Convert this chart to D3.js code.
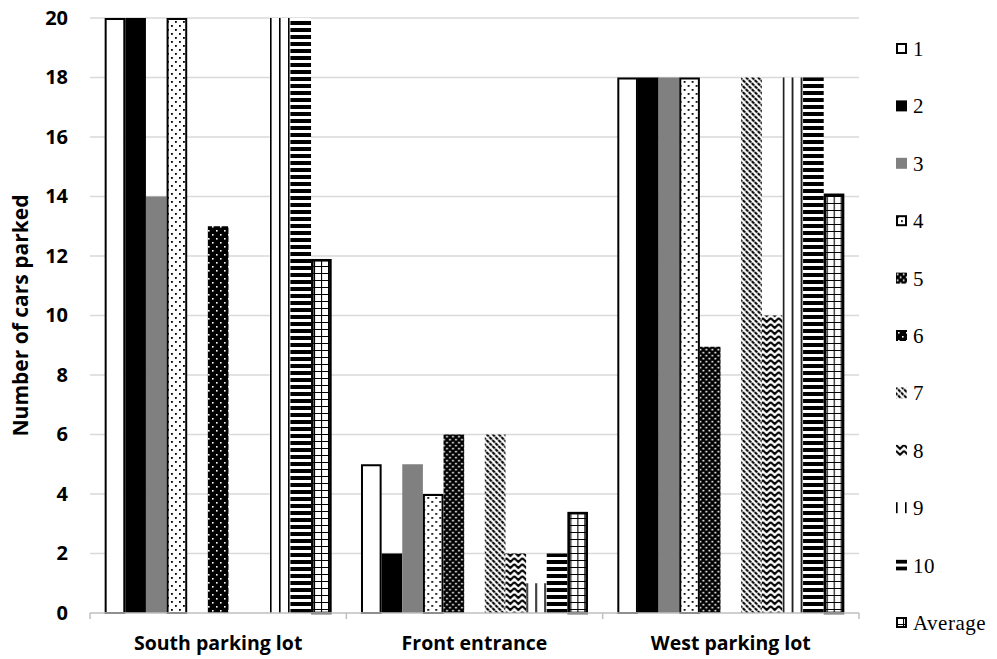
<!DOCTYPE html>
<html>
<head>
<meta charset="utf-8">
<script src="https://cdn.jsdelivr.net/npm/d3@7"></script>
<style>
  body { margin: 0; background: #fff; }
</style>
</head>
<body>
<svg id="chart" width="997" height="659"></svg>
<script>
// data
var categories = ["South parking lot", "Front entrance", "West parking lot"];
var seriesNames = ["1", "2", "3", "4", "5", "6", "7", "8", "9", "10", "Average"];
var southValues = [20, 20, 14, 20, 0, 13, 0, 0, 20, 20, 11.9];
var frontValues = [5, 2, 5, 4, 6, 0, 6, 2, 1, 2, 3.4];
var westValues = [18, 18, 18, 18, 8.95, 0, 18, 10, 18, 18, 14.1];
var yTicks = [0, 2, 4, 6, 8, 10, 12, 14, 16, 18, 20];

var valuesByCat = [southValues, frontValues, westValues];

var svg = d3.select("#chart");
var plotLeft = 90, plotRight = 859, plotTop = 18, plotBottom = 613;
var sans = "'Open Sans', sans-serif";

var x0 = d3.scaleBand().domain(categories).range([plotLeft, plotRight]).paddingInner(0).paddingOuter(0);
var x1 = d3.scaleBand().domain(seriesNames).range([0, x0.bandwidth()]).paddingInner(0).paddingOuter(0.71);
var y = d3.scaleLinear().domain([0, 20]).range([plotBottom, plotTop]);

// fill patterns, one per series
var defs = svg.append("defs");
function pat(id, w, h, draw) {
  var p = defs.append("pattern").attr("id", id).attr("patternUnits", "userSpaceOnUse")
    .attr("width", w).attr("height", h);
  draw(p);
}
pat("p4", 8, 8, function(p) {
  p.append("rect").attr("width", 8).attr("height", 8).attr("fill", "#fff");
  p.append("rect").attr("x", 1).attr("y", 1).attr("width", 1.8).attr("height", 1.8).attr("fill", "#000");
  p.append("rect").attr("x", 5).attr("y", 5).attr("width", 1.8).attr("height", 1.8).attr("fill", "#000");
});
pat("p5", 6, 6, function(p) {
  p.append("rect").attr("width", 6).attr("height", 6).attr("fill", "#000");
  p.append("rect").attr("x", 0.8).attr("y", 0.8).attr("width", 1.7).attr("height", 1.7).attr("fill", "#fff");
  p.append("rect").attr("x", 3.8).attr("y", 3.8).attr("width", 1.7).attr("height", 1.7).attr("fill", "#fff");
});
pat("p6", 8, 8, function(p) {
  p.append("rect").attr("width", 8).attr("height", 8).attr("fill", "#000");
  p.append("rect").attr("x", 2).attr("y", 2).attr("width", 1.6).attr("height", 1.6).attr("fill", "#fff");
  p.append("rect").attr("x", 6).attr("y", 6).attr("width", 1.6).attr("height", 1.6).attr("fill", "#fff");
});
pat("p7", 6, 6, function(p) {
  p.append("rect").attr("width", 6).attr("height", 6).attr("fill", "#fff");
  p.append("path").attr("d", "M-1,-1 L7,7 M-1,5 L1,7 M5,-1 L7,1").attr("stroke", "#000").attr("stroke-width", 2).attr("stroke-dasharray", "3.5,0.8");
});
pat("p8", 8, 6, function(p) {
  p.append("rect").attr("width", 8).attr("height", 6).attr("fill", "#fff");
  p.append("path").attr("d", "M0,0 L4,4 L8,0 M0,6 L4,10 L8,6 M0,-6 L4,-2 L8,-6").attr("stroke", "#000").attr("stroke-width", 2).attr("fill", "none");
});
pat("p9", 9, 10, function(p) {
  p.append("rect").attr("width", 9).attr("height", 10).attr("fill", "#fff");
  p.append("rect").attr("x", 0).attr("width", 1.6).attr("height", 10).attr("fill", "#000");
});
pat("p10", 10, 7, function(p) {
  p.append("rect").attr("width", 10).attr("height", 7).attr("fill", "#fff");
  p.append("rect").attr("y", 0).attr("width", 10).attr("height", 4).attr("fill", "#000");
});
pat("pAvg", 7, 7, function(p) {
  p.append("rect").attr("width", 7).attr("height", 7).attr("fill", "#fff");
  p.append("path").attr("d", "M0,0 V7 M0,0 H7").attr("stroke", "#000").attr("stroke-width", 2.2);
});

var fills = ["#fff", "#000", "#808080", "url(#p4)", "url(#p5)", "url(#p6)", "url(#p7)", "url(#p8)", "url(#p9)", "url(#p10)", "url(#pAvg)"];
var strokes = [2, 0, 0, 2, 0, 0, 0, 0, 0, 0, 2.6];

// gridlines
svg.append("g").selectAll("line").data(yTicks.filter(function(d) { return d > 0; }))
  .enter().append("line")
  .attr("x1", plotLeft).attr("x2", plotRight)
  .attr("y1", function(d) { return y(d); }).attr("y2", function(d) { return y(d); })
  .attr("stroke", "#d9d9d9").attr("stroke-width", 1.5);

// y axis labels
var yAxis = svg.append("g").attr("transform", "translate(" + plotLeft + ",0)")
  .call(d3.axisLeft(y).tickValues(yTicks).tickSize(0).tickPadding(22));
yAxis.select(".domain").remove();
yAxis.selectAll("text").attr("font-family", sans).attr("font-size", 20)
  .attr("font-weight", "bold").attr("fill", "#000");

// bars
var groups = svg.append("g").selectAll("g").data(categories).enter().append("g")
  .attr("transform", function(d) { return "translate(" + x0(d) + ",0)"; });

groups.selectAll("rect")
  .data(function(d, i) {
    return seriesNames.map(function(s, j) { return { s: s, j: j, v: valuesByCat[i][j] }; })
      .filter(function(o) { return o.v > 0; });
  })
  .enter().append("rect")
  .attr("x", function(d) { return x1(d.s) + strokes[d.j] / 2; })
  .attr("width", function(d) { return x1.bandwidth() - strokes[d.j]; })
  .attr("y", function(d) { return y(d.v) + strokes[d.j] / 2; })
  .attr("height", function(d) { return y(0) - y(d.v) - strokes[d.j] / 2; })
  .attr("fill", function(d) { return fills[d.j]; })
  .attr("stroke", function(d) { return strokes[d.j] ? "#000" : "none"; })
  .attr("stroke-width", function(d) { return strokes[d.j]; });

// x axis
var xAxis = svg.append("g").attr("transform", "translate(0," + plotBottom + ")")
  .call(d3.axisBottom(x0).tickSize(0).tickPadding(23));
xAxis.select(".domain").attr("stroke", "#bfbfbf").attr("stroke-width", 1.5).attr("d", "M" + plotLeft + ",0H" + plotRight);
xAxis.selectAll("text").attr("font-family", sans).attr("font-size", 19.5)
  .attr("font-weight", "bold").attr("fill", "#000");
svg.append("g").selectAll("line").data([plotLeft, x0(categories[1]), x0(categories[2]), plotRight])
  .enter().append("line")
  .attr("x1", function(d) { return d; }).attr("x2", function(d) { return d; })
  .attr("y1", plotBottom).attr("y2", plotBottom + 6)
  .attr("stroke", "#bfbfbf").attr("stroke-width", 1.5);

// y title
svg.append("text")
  .attr("transform", "translate(28," + ((plotTop + plotBottom) / 2) + ") rotate(-90)")
  .attr("text-anchor", "middle")
  .attr("font-family", sans)
  .attr("font-size", 21).attr("font-weight", "bold")
  .text("Number of cars parked");

// legend
var legend = svg.append("g").selectAll("g").data(seriesNames).enter().append("g")
  .attr("transform", function(d, i) { return "translate(896," + (43 + i * 57.4) + ")"; });
legend.append("rect")
  .attr("x", function(d, i) { return strokes[i] ? 1 : 0; })
  .attr("y", function(d, i) { return strokes[i] ? 1 : 0; })
  .attr("width", function(d, i) { return strokes[i] ? 9 : 11; })
  .attr("height", function(d, i) { return strokes[i] ? 9 : 11; })
  .attr("fill", function(d, i) { return fills[i]; })
  .attr("stroke", function(d, i) { return strokes[i] ? "#000" : "none"; })
  .attr("stroke-width", function(d, i) { return strokes[i] ? 2 : 0; });
legend.append("text")
  .attr("x", 17).attr("y", 13)
  .attr("font-family", "'Liberation Serif', serif").attr("font-size", 21)
  .attr("letter-spacing", 0.5)
  .text(function(d) { return d; });
</script>
</body>
</html>
